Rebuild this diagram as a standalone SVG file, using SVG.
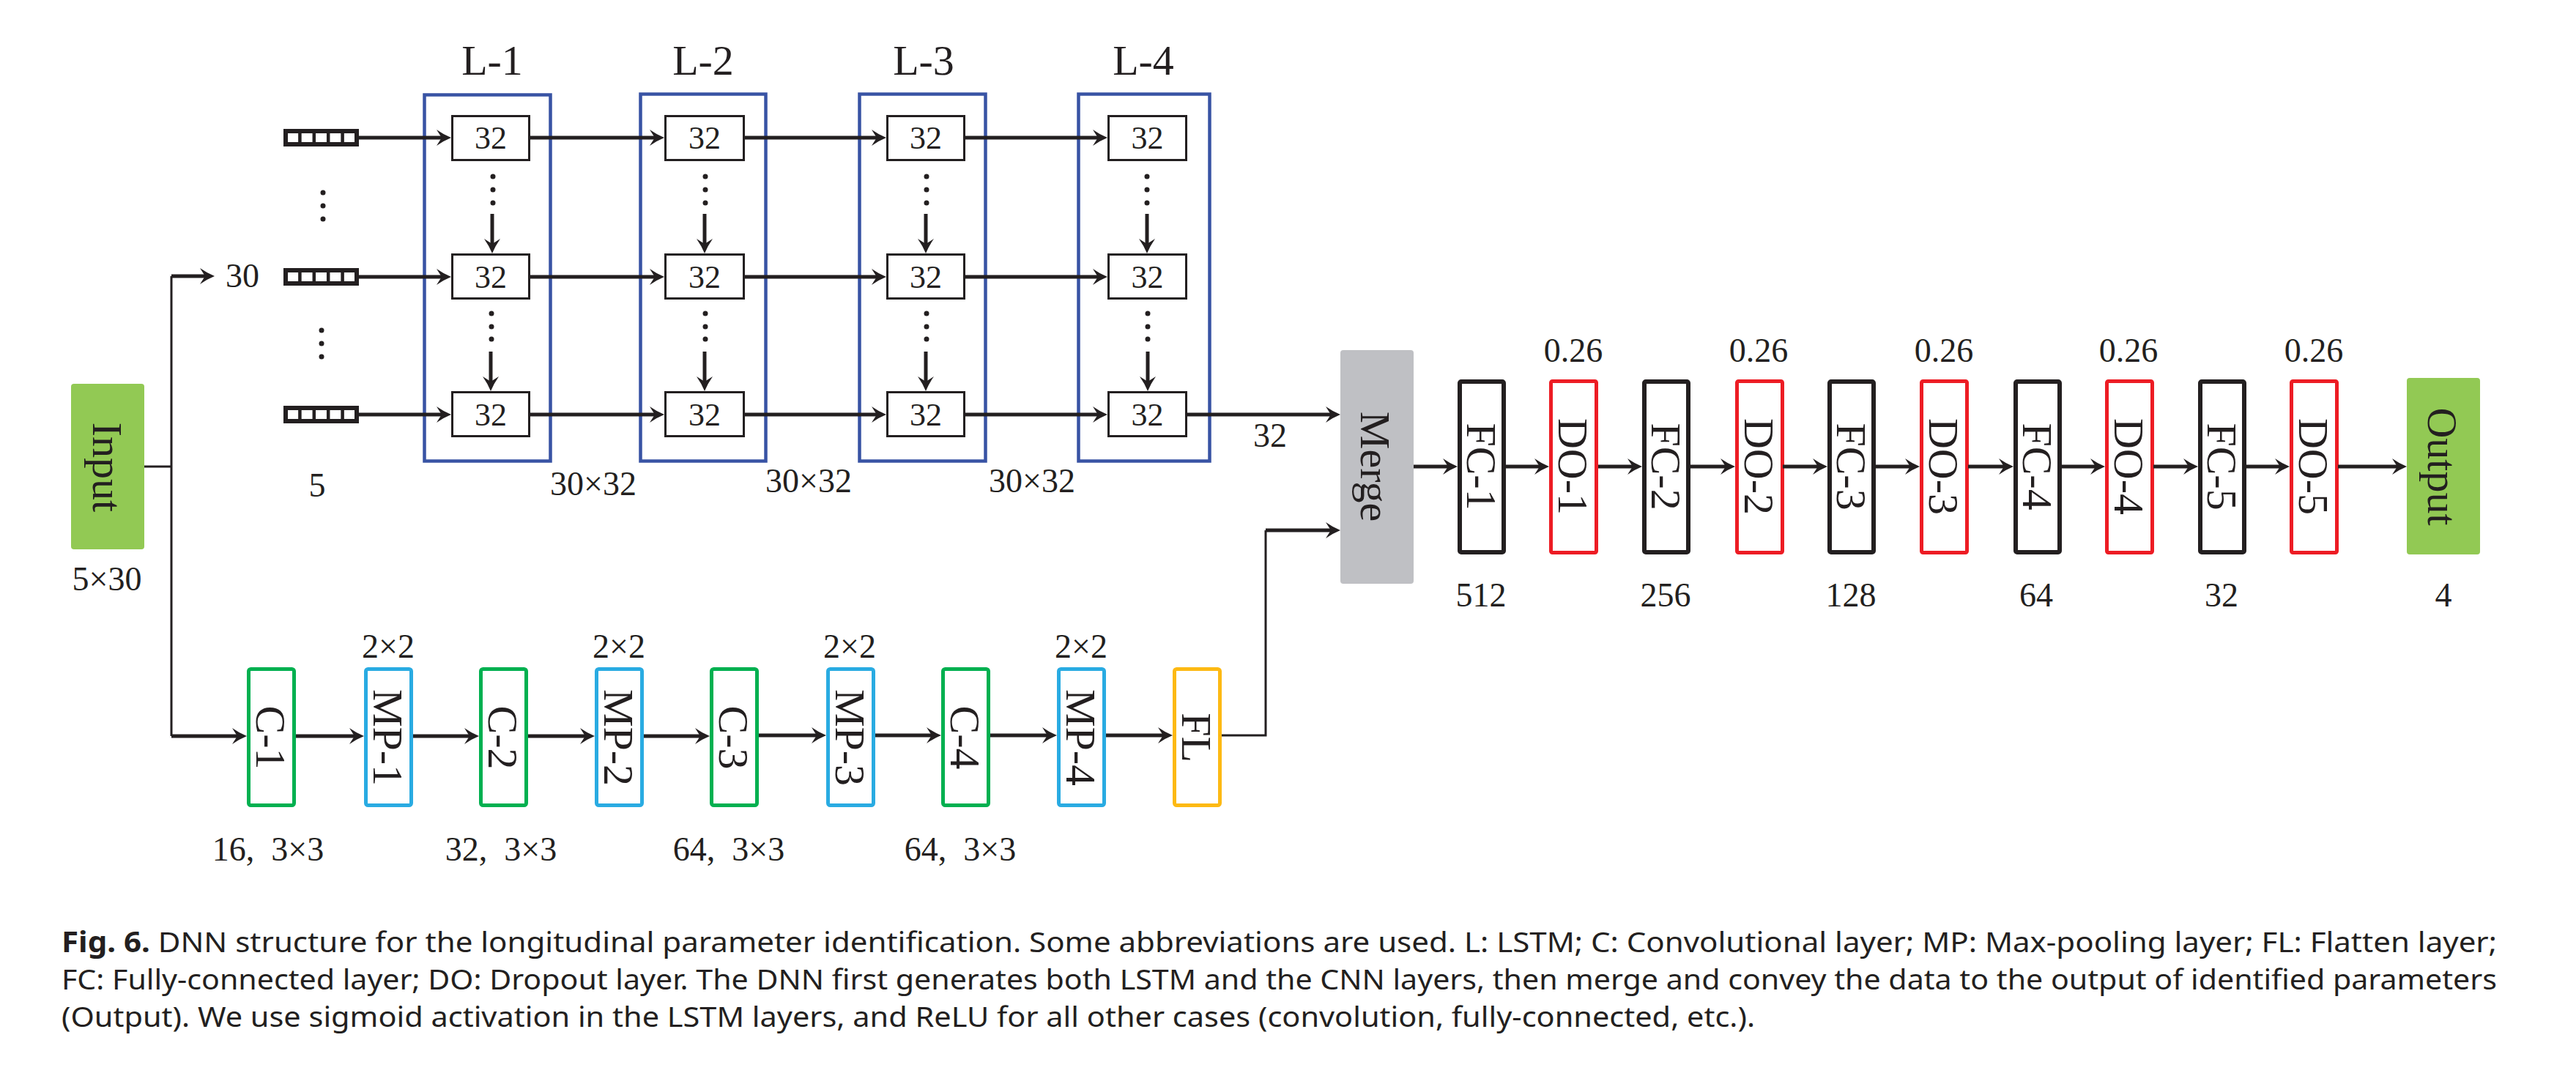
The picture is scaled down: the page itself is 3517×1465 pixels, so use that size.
<svg xmlns="http://www.w3.org/2000/svg" width="3517" height="1465" viewBox="0 0 3517 1465">
<style>
.t{font-family:"Liberation Serif","Times New Roman",serif;fill:#231F20;}
.num{font-size:46px;text-anchor:middle;}
.in32{font-size:44px;text-anchor:middle;}
.big{font-size:58px;text-anchor:middle;}
.cap{font-family:"Noto Sans","Open Sans",sans-serif;font-size:39px;fill:#231F20;}
.conn{stroke:#231F20;stroke-width:5;fill:none;}
.thin{stroke:#231F20;stroke-width:3;fill:none;}
.cell{fill:#fff;stroke:#231F20;stroke-width:3;}
.bar{fill:#fff;stroke:#231F20;stroke-width:6;}
.div{stroke:#231F20;stroke-width:4.5;}
.frame{fill:none;stroke:#3853A4;stroke-width:4.5;}
.dot{fill:#231F20;}
.fc{fill:#fff;stroke:#231F20;stroke-width:6;}
.do{fill:#fff;stroke:#ED1C24;stroke-width:5;}
.cv{fill:#fff;stroke:#00B050;stroke-width:5;}
.mp{fill:#fff;stroke:#29ABE2;stroke-width:5;}
.fl{fill:#fff;stroke:#FDB913;stroke-width:5;}
</style>
<defs>
<marker id="ah" markerUnits="userSpaceOnUse" viewBox="-22 -13 32 26" refX="0" refY="0" markerWidth="32" markerHeight="26" orient="auto">
<path d="M8,0 Q-2,-4 -12,-11 L-5,0 L-12,11 Q-2,4 8,0 Z" fill="#231F20"/>
</marker>
</defs>
<rect width="3517" height="1465" fill="#fff"/>

<!-- Input -->
<g id="input">
<rect x="97" y="524" width="100" height="226" rx="4" fill="#92C954"/>
<text class="t big" transform="translate(127,638) rotate(90)">Input</text>
<text class="t num" x="146" y="806">5×30</text>
</g>

<!-- input sequence bars -->
<g id="seq">
<rect class="bar" x="390" y="179" width="97" height="18"/>
<path class="div" d="M409.4,179V197M428.8,179V197M448.2,179V197M467.6,179V197"/>
<rect class="bar" x="390" y="369" width="97" height="18"/>
<path class="div" d="M409.4,369V387M428.8,369V387M448.2,369V387M467.6,369V387"/>
<rect class="bar" x="390" y="557" width="97" height="18"/>
<path class="div" d="M409.4,557V575M428.8,557V575M448.2,557V575M467.6,557V575"/>
<circle class="dot" cx="441" cy="263" r="3.5"/><circle class="dot" cx="441" cy="281" r="3.5"/><circle class="dot" cx="441" cy="299" r="3.5"/>
<circle class="dot" cx="439" cy="451" r="3.5"/><circle class="dot" cx="439" cy="469" r="3.5"/><circle class="dot" cx="439" cy="487" r="3.5"/>
<text class="t num" x="331" y="392">30</text>
<text class="t num" x="433" y="678">5</text>
</g>

<!-- LSTM layers -->
<g id="L-1">
<text class="t big" x="672" y="102">L-1</text>
<rect class="frame" x="579.5" y="129.5" width="172" height="500"/>
<rect class="cell" x="617.5" y="158.5" width="105" height="60"/>
<rect class="cell" x="617.5" y="347.5" width="105" height="60"/>
<rect class="cell" x="617.5" y="535.5" width="105" height="60"/>
<text class="t in32" x="670" y="203">32</text>
<text class="t in32" x="670" y="393">32</text>
<text class="t in32" x="670" y="581">32</text>
<circle class="dot" cx="673" cy="241" r="3.5"/><circle class="dot" cx="673" cy="259" r="3.5"/><circle class="dot" cx="673" cy="277" r="3.5"/>
<circle class="dot" cx="671" cy="428" r="3.5"/><circle class="dot" cx="671" cy="446" r="3.5"/><circle class="dot" cx="671" cy="463" r="3.5"/>
<text class="t num" x="810" y="676">30×32</text>
</g>
<g id="L-2">
<text class="t big" x="960" y="102">L-2</text>
<rect class="frame" x="874.5" y="128.5" width="171" height="501"/>
<rect class="cell" x="908.5" y="158.5" width="107" height="60"/>
<rect class="cell" x="908.5" y="347.5" width="107" height="60"/>
<rect class="cell" x="908.5" y="535.5" width="107" height="60"/>
<text class="t in32" x="962" y="203">32</text>
<text class="t in32" x="962" y="393">32</text>
<text class="t in32" x="962" y="581">32</text>
<circle class="dot" cx="963" cy="241" r="3.5"/><circle class="dot" cx="963" cy="259" r="3.5"/><circle class="dot" cx="963" cy="277" r="3.5"/>
<circle class="dot" cx="963" cy="428" r="3.5"/><circle class="dot" cx="963" cy="446" r="3.5"/><circle class="dot" cx="963" cy="463" r="3.5"/>
<text class="t num" x="1104" y="672">30×32</text>
</g>
<g id="L-3">
<text class="t big" x="1261" y="102">L-3</text>
<rect class="frame" x="1173.5" y="128.5" width="172" height="501"/>
<rect class="cell" x="1211.5" y="158.5" width="105" height="60"/>
<rect class="cell" x="1211.5" y="347.5" width="105" height="60"/>
<rect class="cell" x="1211.5" y="535.5" width="105" height="60"/>
<text class="t in32" x="1264" y="203">32</text>
<text class="t in32" x="1264" y="393">32</text>
<text class="t in32" x="1264" y="581">32</text>
<circle class="dot" cx="1265" cy="241" r="3.5"/><circle class="dot" cx="1265" cy="259" r="3.5"/><circle class="dot" cx="1265" cy="277" r="3.5"/>
<circle class="dot" cx="1265" cy="428" r="3.5"/><circle class="dot" cx="1265" cy="446" r="3.5"/><circle class="dot" cx="1265" cy="463" r="3.5"/>
<text class="t num" x="1409" y="672">30×32</text>
</g>
<g id="L-4">
<text class="t big" x="1561" y="102">L-4</text>
<rect class="frame" x="1472.5" y="128.5" width="179" height="501"/>
<rect class="cell" x="1513.5" y="158.5" width="106" height="60"/>
<rect class="cell" x="1513.5" y="347.5" width="106" height="60"/>
<rect class="cell" x="1513.5" y="535.5" width="106" height="60"/>
<text class="t in32" x="1566.5" y="203">32</text>
<text class="t in32" x="1566.5" y="393">32</text>
<text class="t in32" x="1566.5" y="581">32</text>
<circle class="dot" cx="1566" cy="241" r="3.5"/><circle class="dot" cx="1566" cy="259" r="3.5"/><circle class="dot" cx="1566" cy="277" r="3.5"/>
<circle class="dot" cx="1567" cy="428" r="3.5"/><circle class="dot" cx="1567" cy="446" r="3.5"/><circle class="dot" cx="1567" cy="463" r="3.5"/>
<text class="t num" x="1734" y="610">32</text>
</g>

<!-- CNN -->
<g id="C-1"><rect class="cv" x="339.5" y="913.5" width="62" height="186" rx="3"/><text class="t big" transform="translate(350,1007) rotate(90)">C-1</text><text class="t num" x="366" y="1175" xml:space="preserve">16,  3×3</text></g>
<g id="MP-1"><rect class="mp" x="499.5" y="913.5" width="62" height="186" rx="3"/><text class="t big" transform="translate(510,1007) rotate(90)">MP-1</text><text class="t num" x="530" y="898">2×2</text></g>
<g id="C-2"><rect class="cv" x="656.5" y="913.5" width="62" height="186" rx="3"/><text class="t big" transform="translate(667,1007) rotate(90)">C-2</text><text class="t num" x="684" y="1175" xml:space="preserve">32,  3×3</text></g>
<g id="MP-2"><rect class="mp" x="814.5" y="913.5" width="62" height="186" rx="3"/><text class="t big" transform="translate(825,1007) rotate(90)">MP-2</text><text class="t num" x="845" y="898">2×2</text></g>
<g id="C-3"><rect class="cv" x="971.5" y="913.5" width="62" height="186" rx="3"/><text class="t big" transform="translate(982,1007) rotate(90)">C-3</text><text class="t num" x="995" y="1175" xml:space="preserve">64,  3×3</text></g>
<g id="MP-3"><rect class="mp" x="1130.5" y="913.5" width="62" height="186" rx="3"/><text class="t big" transform="translate(1141,1007) rotate(90)">MP-3</text><text class="t num" x="1160" y="898">2×2</text></g>
<g id="C-4"><rect class="cv" x="1287.5" y="913.5" width="62" height="186" rx="3"/><text class="t big" transform="translate(1298,1007) rotate(90)">C-4</text><text class="t num" x="1311" y="1175" xml:space="preserve">64,  3×3</text></g>
<g id="MP-4"><rect class="mp" x="1445.5" y="913.5" width="62" height="186" rx="3"/><text class="t big" transform="translate(1456,1007) rotate(90)">MP-4</text><text class="t num" x="1476" y="898">2×2</text></g>
<g id="FL"><rect class="fl" x="1603.5" y="913.5" width="62" height="186" rx="3"/><text class="t big" transform="translate(1614,1007) rotate(90)">FL</text></g>

<!-- Merge -->
<g id="Merge">
<rect x="1830" y="478" width="100" height="319" rx="4" fill="#BFC0C4"/>
<text class="t big" transform="translate(1858,637) rotate(90)">Merge</text>
</g>

<!-- FC / DO -->
<g id="FC-1"><rect class="fc" x="1993" y="521" width="60" height="233" rx="2"/><text class="t big" transform="translate(2003,637) rotate(90)">FC-1</text><text class="t num" x="2022" y="828">512</text></g>
<g id="DO-1"><rect class="do" x="2117.5" y="520.5" width="62" height="234" rx="2"/><text class="t big" transform="translate(2128,637) rotate(90)">DO-1</text><text class="t num" x="2148" y="494">0.26</text></g>
<g id="FC-2"><rect class="fc" x="2245" y="521" width="60" height="233" rx="2"/><text class="t big" transform="translate(2255,637) rotate(90)">FC-2</text><text class="t num" x="2274" y="828">256</text></g>
<g id="DO-2"><rect class="do" x="2371.5" y="520.5" width="62" height="234" rx="2"/><text class="t big" transform="translate(2382,637) rotate(90)">DO-2</text><text class="t num" x="2401" y="494">0.26</text></g>
<g id="FC-3"><rect class="fc" x="2498" y="521" width="60" height="233" rx="2"/><text class="t big" transform="translate(2508,637) rotate(90)">FC-3</text><text class="t num" x="2527" y="828">128</text></g>
<g id="DO-3"><rect class="do" x="2623.5" y="520.5" width="62" height="234" rx="2"/><text class="t big" transform="translate(2634,637) rotate(90)">DO-3</text><text class="t num" x="2654" y="494">0.26</text></g>
<g id="FC-4"><rect class="fc" x="2752" y="521" width="60" height="233" rx="2"/><text class="t big" transform="translate(2762,637) rotate(90)">FC-4</text><text class="t num" x="2780" y="828">64</text></g>
<g id="DO-4"><rect class="do" x="2876.5" y="520.5" width="62" height="234" rx="2"/><text class="t big" transform="translate(2887,637) rotate(90)">DO-4</text><text class="t num" x="2906" y="494">0.26</text></g>
<g id="FC-5"><rect class="fc" x="3004" y="521" width="60" height="233" rx="2"/><text class="t big" transform="translate(3014,637) rotate(90)">FC-5</text><text class="t num" x="3033" y="828">32</text></g>
<g id="DO-5"><rect class="do" x="3128.5" y="520.5" width="62" height="234" rx="2"/><text class="t big" transform="translate(3139,637) rotate(90)">DO-5</text><text class="t num" x="3159" y="494">0.26</text></g>

<g id="Output">
<rect x="3286" y="516" width="100" height="241" rx="4" fill="#92C954"/>
<text class="t big" transform="translate(3315,637) rotate(90)">Output</text>
<text class="t num" x="3336" y="828">4</text>
</g>

<!-- connectors -->
<g id="connectors">
<path class="thin" d="M197,637H234M234,377V1005"/>
<path class="conn" d="M234,377H285" marker-end="url(#ah)"/>
<path class="conn" d="M234,1005H329" marker-end="url(#ah)"/>

<path class="conn" d="M490,188H608" marker-end="url(#ah)"/>
<path class="conn" d="M724,188H899" marker-end="url(#ah)"/>
<path class="conn" d="M1017,188H1202" marker-end="url(#ah)"/>
<path class="conn" d="M1318,188H1504" marker-end="url(#ah)"/>
<path class="conn" d="M490,378H608" marker-end="url(#ah)"/>
<path class="conn" d="M724,378H899" marker-end="url(#ah)"/>
<path class="conn" d="M1017,378H1202" marker-end="url(#ah)"/>
<path class="conn" d="M1318,378H1504" marker-end="url(#ah)"/>
<path class="conn" d="M490,566H608" marker-end="url(#ah)"/>
<path class="conn" d="M724,566H899" marker-end="url(#ah)"/>
<path class="conn" d="M1017,566H1202" marker-end="url(#ah)"/>
<path class="conn" d="M1318,566H1504" marker-end="url(#ah)"/>
<path class="conn" d="M1621,566H1822" marker-end="url(#ah)"/>

<path class="conn" d="M672,292V338" marker-end="url(#ah)"/>
<path class="conn" d="M670,480V526" marker-end="url(#ah)"/>
<path class="conn" d="M962,292V338" marker-end="url(#ah)"/>
<path class="conn" d="M962,480V526" marker-end="url(#ah)"/>
<path class="conn" d="M1264,292V338" marker-end="url(#ah)"/>
<path class="conn" d="M1264,480V526" marker-end="url(#ah)"/>
<path class="conn" d="M1566,292V338" marker-end="url(#ah)"/>
<path class="conn" d="M1567,480V526" marker-end="url(#ah)"/>

<path class="conn" d="M404,1005H489" marker-end="url(#ah)"/>
<path class="conn" d="M564,1005H646" marker-end="url(#ah)"/>
<path class="conn" d="M721,1005H804" marker-end="url(#ah)"/>
<path class="conn" d="M879,1005H961" marker-end="url(#ah)"/>
<path class="conn" d="M1036,1004H1120" marker-end="url(#ah)"/>
<path class="conn" d="M1195,1004H1277" marker-end="url(#ah)"/>
<path class="conn" d="M1352,1004H1435" marker-end="url(#ah)"/>
<path class="conn" d="M1510,1004H1593" marker-end="url(#ah)"/>
<path class="thin" d="M1668,1004H1728V724"/>
<path class="conn" d="M1728,724H1822" marker-end="url(#ah)"/>

<path class="conn" d="M1930,637H1982" marker-end="url(#ah)"/>
<path class="conn" d="M2056,637H2107" marker-end="url(#ah)"/>
<path class="conn" d="M2182,637H2234" marker-end="url(#ah)"/>
<path class="conn" d="M2308,637H2361" marker-end="url(#ah)"/>
<path class="conn" d="M2434,637H2487" marker-end="url(#ah)"/>
<path class="conn" d="M2561,637H2613" marker-end="url(#ah)"/>
<path class="conn" d="M2687,637H2741" marker-end="url(#ah)"/>
<path class="conn" d="M2815,637H2866" marker-end="url(#ah)"/>
<path class="conn" d="M2940,637H2993" marker-end="url(#ah)"/>
<path class="conn" d="M3067,637H3118" marker-end="url(#ah)"/>
<path class="conn" d="M3192,637H3278" marker-end="url(#ah)"/>
</g>

<!-- caption -->
<g id="caption">
<text class="cap" x="84" y="1300" textLength="3325" lengthAdjust="spacingAndGlyphs"><tspan font-weight="bold">Fig. 6.</tspan> DNN structure for the longitudinal parameter identification. Some abbreviations are used. L: LSTM; C: Convolutional layer; MP: Max-pooling layer; FL: Flatten layer;</text>
<text class="cap" x="84" y="1351" textLength="3325" lengthAdjust="spacingAndGlyphs">FC: Fully-connected layer; DO: Dropout layer. The DNN first generates both LSTM and the CNN layers, then merge and convey the data to the output of identified parameters</text>
<text class="cap" x="84" y="1402" textLength="2312" lengthAdjust="spacingAndGlyphs">(Output). We use sigmoid activation in the LSTM layers, and ReLU for all other cases (convolution, fully-connected, etc.).</text>
</g>
</svg>
